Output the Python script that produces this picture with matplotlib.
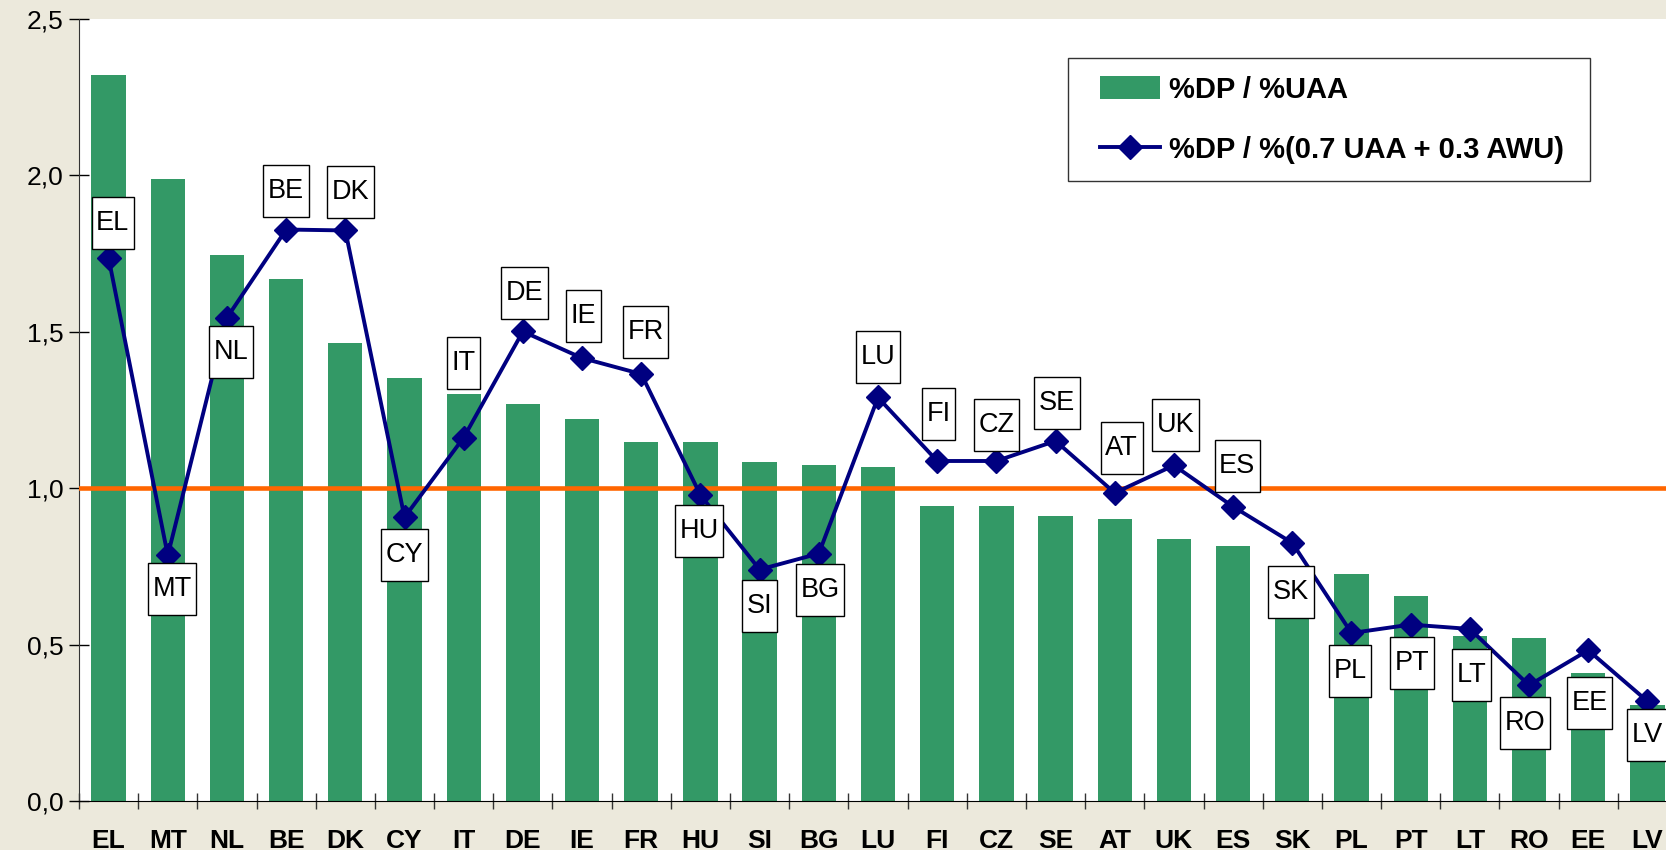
import matplotlib
matplotlib.use("Agg")
import matplotlib.pyplot as plt
from matplotlib.ticker import FixedLocator, FuncFormatter
from matplotlib.path import Path
from matplotlib.legend_handler import HandlerPatch, HandlerLine2D

plt.rcParams['font.family'] = ['Liberation Sans', 'DejaVu Sans']

# Data
countries = ["EL", "MT", "NL", "BE", "DK", "CY", "IT", "DE", "IE", "FR", "HU", "SI", "BG", "LU",
             "FI", "CZ", "SE", "AT", "UK", "ES", "SK", "PL", "PT", "LT", "RO", "EE", "LV"]
dp_uaa = [2.32, 1.99, 1.746, 1.668, 1.464, 1.352, 1.301, 1.27, 1.22, 1.148, 1.148, 1.084, 1.073, 1.067,
          0.944, 0.944, 0.91, 0.90, 0.836, 0.815, 0.745, 0.726, 0.655, 0.527, 0.521, 0.409, 0.307]
dp_mix = [1.736, 0.785, 1.545, 1.827, 1.824, 0.907, 1.162, 1.501, 1.416, 1.365, 0.978, 0.74, 0.791, 1.29,
          1.087, 1.087, 1.151, 0.985, 1.073, 0.941, 0.825, 0.537, 0.564, 0.55, 0.37, 0.482, 0.319]
series_names = ['%DP / %UAA', '%DP / %(0.7 UAA + 0.3 AWU) ']

# label offsets (points) above / below each point
label_dy = [25, -24.5, -24.5, 27.5, 27.5, -27.5, 54, 28, 30, 30, -26, -26, -26, 29,
            34, 26, 27.5, 32, 29, 29, -35, -27.5, -27.5, -33, -27.5, -38, -24.5]
label_dx = [3, 3, 3, 0, 4, 0, 0, 1, 1, 3, -1, 0, 1, 0, 1, 0, 1, 5, 1, 3, -1, -1, 1, 1, -3, 1, 0]

bg = '#ECE9DC'
green = '#339966'
navy = '#000080'
orange = '#FF6600'


def label_box(x0, y0, width, height, mutation_size):
    # box with more room above/below than at the sides
    px = 0.17 * mutation_size
    py = 0.48 * mutation_size
    x0, y0 = x0 - px, y0 - py
    x1, y1 = x0 + width + 2 * px, y0 + height + 2 * py
    return Path([(x0, y0), (x1, y0), (x1, y1), (x0, y1), (x0, y0)], closed=True)


fig = plt.figure(figsize=(16.66, 8.5), dpi=100, facecolor=bg)
ax = fig.add_axes([79 / 1666, 49 / 850, 1598 / 1666, 782 / 850])
ax.set_facecolor('white')

x = list(range(len(countries)))
bars = ax.bar(x, dp_uaa, width=0.58, color=green, zorder=2)
ax.axhline(1.0, color=orange, lw=3.3, zorder=3)
line, = ax.plot(x, dp_mix, color=navy, lw=2.8, marker='D', markersize=12.5, zorder=4)

for i, c in enumerate(countries):
    ax.annotate(c, (x[i], dp_mix[i]), xytext=(label_dx[i], label_dy[i]), textcoords='offset points',
                ha='center', va='center', fontsize=19.5, zorder=5,
                bbox=dict(boxstyle=label_box, fc='white', ec='black', lw=1.0))

ax.set_xlim(-0.5, len(countries) - 0.5)
ax.set_ylim(0, 2.5)
ax.set_yticks([0, 0.5, 1.0, 1.5, 2.0, 2.5])
ax.yaxis.set_major_formatter(FuncFormatter(lambda v, p: f"{v:.1f}".replace('.', ',')))
ax.tick_params(axis='y', direction='inout', length=14, width=1, labelsize=19, pad=4)

ax.xaxis.set_major_locator(FixedLocator([i - 0.5 for i in range(len(countries) + 1)]))
ax.xaxis.set_minor_locator(FixedLocator(x))
ax.set_xticklabels([], minor=False)
ax.set_xticklabels(countries, minor=True, fontweight='bold', fontsize=19)
ax.tick_params(axis='x', which='major', direction='inout', length=12, width=1, color='#333333')
ax.tick_params(axis='x', which='minor', length=0, pad=20)

for s in ['top', 'right']:
    ax.spines[s].set_visible(False)
ax.spines['left'].set_color('#333333')
ax.spines['bottom'].set_color('black')

bar_handle = bars.patches[0]
leg = ax.legend([bar_handle, line], series_names, loc='upper left',
                bbox_to_anchor=(1068 / 1666, 1 - 58 / 850),
                bbox_transform=fig.transFigure, prop={'weight': 'bold', 'size': 21},
                frameon=True, fancybox=False, borderpad=0.6, labelspacing=1.1, handlelength=2.57,
                handleheight=0.8, handletextpad=0.29, borderaxespad=0,
                handler_map={bar_handle: HandlerPatch(xpad=0.49), line: HandlerLine2D(xpad=0.49)})
leg.get_frame().set_edgecolor('black')
leg.get_frame().set_linewidth(1.0)

plt.savefig('out.png', dpi=100, facecolor=bg)
